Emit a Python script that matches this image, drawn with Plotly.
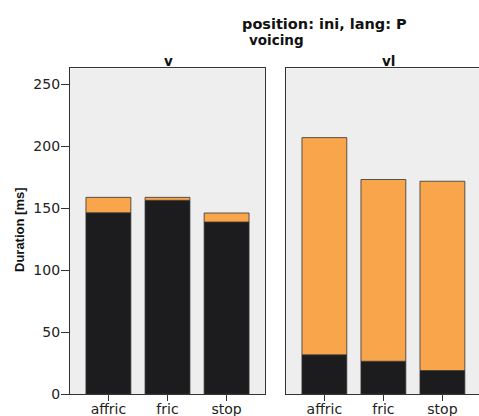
import plotly.graph_objects as go

categories = ["affric", "fric", "stop"]
# voiced portion (black) and total duration (top of orange), per voicing panel
voiced_v = [146.2, 156.2, 138.7]
total_v = [158.6, 158.6, 146.0]
voiced_vl = [31.6, 26.4, 18.9]
total_vl = [206.8, 173.0, 171.6]
yticks = [0, 50, 100, 150, 200, 250]

W, H = 479, 416
BLACK = "#1c1b1d"
ORANGE = "#f8a54c"
BG = "#eeeeee"
LINE = "#333333"

fig = go.Figure()

def add_panel(voiced, total, xa, ya):
    rest = [t - v for t, v in zip(total, voiced)]
    fig.add_trace(go.Bar(x=categories, y=voiced, marker=dict(color=BLACK, line=dict(color=LINE, width=0.8)),
                         width=0.76, xaxis=xa, yaxis=ya, showlegend=False, hoverinfo="skip"))
    fig.add_trace(go.Bar(x=categories, y=rest, base=voiced,
                         marker=dict(color=ORANGE, line=dict(color=LINE, width=0.8)),
                         width=0.76, xaxis=xa, yaxis=ya, showlegend=False, hoverinfo="skip"))

add_panel(voiced_v, total_v, "x", "y")
add_panel(voiced_vl, total_vl, "x2", "y2")

y0 = (H - 394.0) / H
y1 = (H - 68.3) / H
yr = [0, 262.7]
tickfont = dict(family="DejaVu Sans", size=14, color="#222222")

xcommon = dict(type="category", showline=True, linecolor=LINE, linewidth=1.3, ticks="outside",
               ticklen=6, tickcolor=LINE, tickwidth=1, tickfont=tickfont, showgrid=False,
               zeroline=False, fixedrange=True, automargin=False, ticklabelstandoff=-4)

fig.update_layout(
    width=W, height=H,
    margin=dict(l=0, r=0, t=0, b=0, autoexpand=False),
    paper_bgcolor="white",
    plot_bgcolor=BG,
    barmode="overlay",
    xaxis=dict(domain=[70 / W, 265 / W], range=[-0.65, 2.65], mirror=True, anchor="y", **xcommon),
    xaxis2=dict(domain=[286 / W, 1.0], range=[-0.65, 2.62], mirror=True, anchor="y2", **xcommon),
    yaxis=dict(domain=[y0, y1], range=yr, tickvals=yticks, showline=True, mirror=True,
               linecolor=LINE, linewidth=1.3, ticks="outside", ticklen=8, tickcolor=LINE,
               tickwidth=1, tickfont=tickfont, showgrid=False, zeroline=False, anchor="x",
               fixedrange=True, automargin=False, ticklabelstandoff=-2),
    yaxis2=dict(domain=[y0, y1], range=yr, tickvals=yticks, showticklabels=False, showline=True,
                mirror=False, linecolor=LINE, linewidth=1.3, ticks="", showgrid=False,
                zeroline=False, anchor="x2", fixedrange=True, automargin=False),
)

def ann(text, xpx, ypx, font, angle=0):
    fig.add_annotation(text=text, x=xpx / W, y=1 - ypx / H, xref="paper", yref="paper",
                       showarrow=False, font=font, textangle=angle, xanchor="center", yanchor="middle")

ann("<b>position: ini, lang: P</b>", 324, 24, dict(family="DejaVu Sans", size=14.5, color="#111111"))
ann("<b>voicing</b>", 276, 40, dict(family="DejaVu Sans", size=13.5, color="#111111"))
ann("<b>v</b>", 168, 61.5, dict(family="DejaVu Sans", size=13.5, color="#111111"))
ann("<b>vl</b>", 388, 61.5, dict(family="DejaVu Sans", size=13.5, color="#111111"))
ann("<b>Duration [ms]</b>", 19, 230, dict(family="Liberation Sans", size=13, color="#111111"), angle=-90)

fig.write_html("out.html", config={"displayModeBar": False},
               post_script="document.body.style.margin='0';document.body.style.overflow='hidden';")
